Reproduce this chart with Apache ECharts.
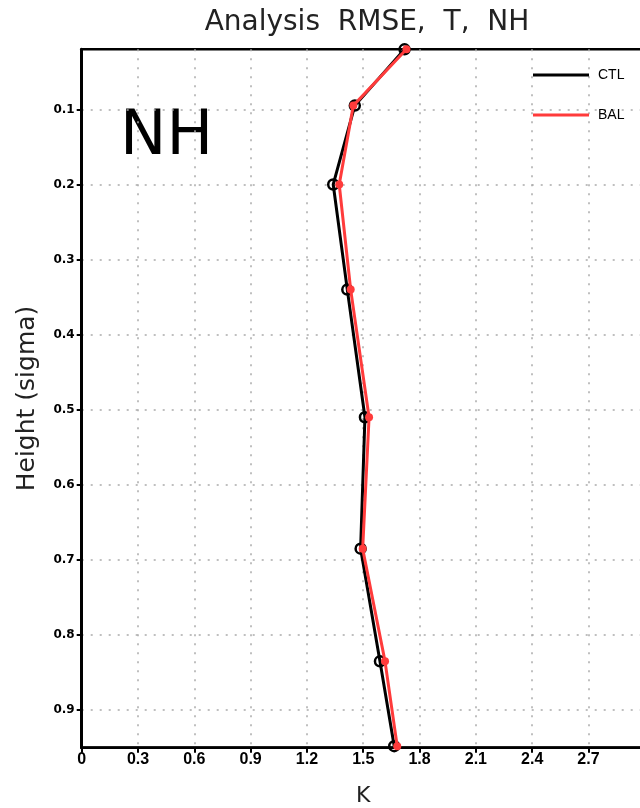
<!DOCTYPE html>
<html>
<head>
<meta charset="utf-8">
<script src="https://cdn.jsdelivr.net/npm/echarts@6/dist/echarts.min.js"></script>
<style>
html,body{margin:0;padding:0;background:#fff;}
#chart{width:640px;height:808px;}
</style>
</head>
<body>
<div id="chart"></div>
<script>
// sigma levels (vertical coordinate)
var sigmaLevels = [0.02, 0.095, 0.2, 0.34, 0.51, 0.685, 0.835, 0.948];
// RMSE values (K)
var ctlValues = [1.72, 1.455, 1.34, 1.415, 1.509, 1.486, 1.589, 1.665];
var balValues = [1.73, 1.447, 1.372, 1.433, 1.531, 1.497, 1.616, 1.681];
// y tick labels
var yTicks = [0.1, 0.2, 0.3, 0.4, 0.5, 0.6, 0.7, 0.8, 0.9];

function pairs(xs, ys) {
  return xs.map(function (v, i) { return [v, ys[i]]; });
}

var chart = echarts.init(document.getElementById('chart'), null, {renderer: 'canvas'});
var gridLine = {show: true, lineStyle: {color: '#aaaaaa', width: 1.5, type: [2, 7]}};

chart.setOption({
  animation: false,
  title: {
    text: 'Analysis  RMSE,  T,  NH',
    left: 362, top: 4, textAlign: 'center',
    textStyle: {fontFamily: 'DejaVu Sans', fontWeight: 'normal', fontSize: 28, color: '#222'}
  },
  legend: {
    orient: 'vertical', left: 533, top: 68, padding: 0,
    itemWidth: 56, itemHeight: 3, itemGap: 26,
    icon: 'rect',
    textStyle: {fontFamily: 'Liberation Sans', fontSize: 14, color: '#000', padding: [0, 0, 0, 4]},
    data: [
      {name: 'CTL', itemStyle: {color: '#000', borderWidth: 0}},
      {name: 'BAL', itemStyle: {color: '#ff3b3b', borderWidth: 0}}
    ]
  },
  graphic: [{
    type: 'text', left: 120, top: 107,
    style: {text: 'NH', fontFamily: 'DejaVu Sans', fontSize: 62, fill: '#000'}
  }],
  grid: {
    left: 81.7, top: 49.3, right: -4.8, bottom: 60.3,
    outerBoundsMode: 'none', containLabel: false,
    show: true, borderColor: '#000', borderWidth: 2.5, backgroundColor: 'transparent'
  },
  xAxis: {
    type: 'value', min: 0, max: 3, interval: 0.3,
    name: 'K', nameLocation: 'middle', nameGap: 38,
    nameTextStyle: {fontFamily: 'DejaVu Sans', fontSize: 22, color: '#222'},
    axisLine: {show: true, onZero: false, lineStyle: {color: '#000', width: 2.5}},
    axisTick: {show: true, length: 5, lineStyle: {color: '#000', width: 2}},
    axisLabel: {margin: 4, showMaxLabel: false, color: '#000', fontSize: 16, fontWeight: 'bold', fontFamily: 'Liberation Sans'},
    splitLine: gridLine
  },
  yAxis: {
    type: 'value', min: 0.02, max: 0.95, inverse: true,
    name: 'Height (sigma)', nameLocation: 'middle', nameGap: 42, nameRotate: 90,
    nameTextStyle: {fontFamily: 'DejaVu Sans', fontSize: 25, color: '#222'},
    axisLine: {show: true, onZero: false, lineStyle: {color: '#000', width: 3}},
    axisTick: {show: true, length: 5, customValues: yTicks, lineStyle: {color: '#000', width: 2}},
    axisLabel: {margin: 7, customValues: yTicks, color: '#000', fontSize: 12, fontWeight: 'bold', fontFamily: 'DejaVu Sans'},
    splitLine: gridLine
  },
  series: [
    {
      name: 'CTL', type: 'line', data: pairs(ctlValues, sigmaLevels),
      color: '#000',
      lineStyle: {color: '#000', width: 3},
      symbol: 'circle', symbolSize: 10, showAllSymbol: true,
      itemStyle: {color: 'rgba(0,0,0,0)', borderColor: '#000', borderWidth: 2.5},
      clip: false, z: 2
    },
    {
      name: 'BAL', type: 'line', data: pairs(balValues, sigmaLevels),
      color: '#ff3b3b',
      lineStyle: {color: '#ff3b3b', width: 3},
      symbol: 'circle', symbolSize: 8, showAllSymbol: true,
      itemStyle: {color: '#ff3b3b', borderWidth: 0},
      clip: false, z: 3
    }
  ]
});
</script>
</body>
</html>
